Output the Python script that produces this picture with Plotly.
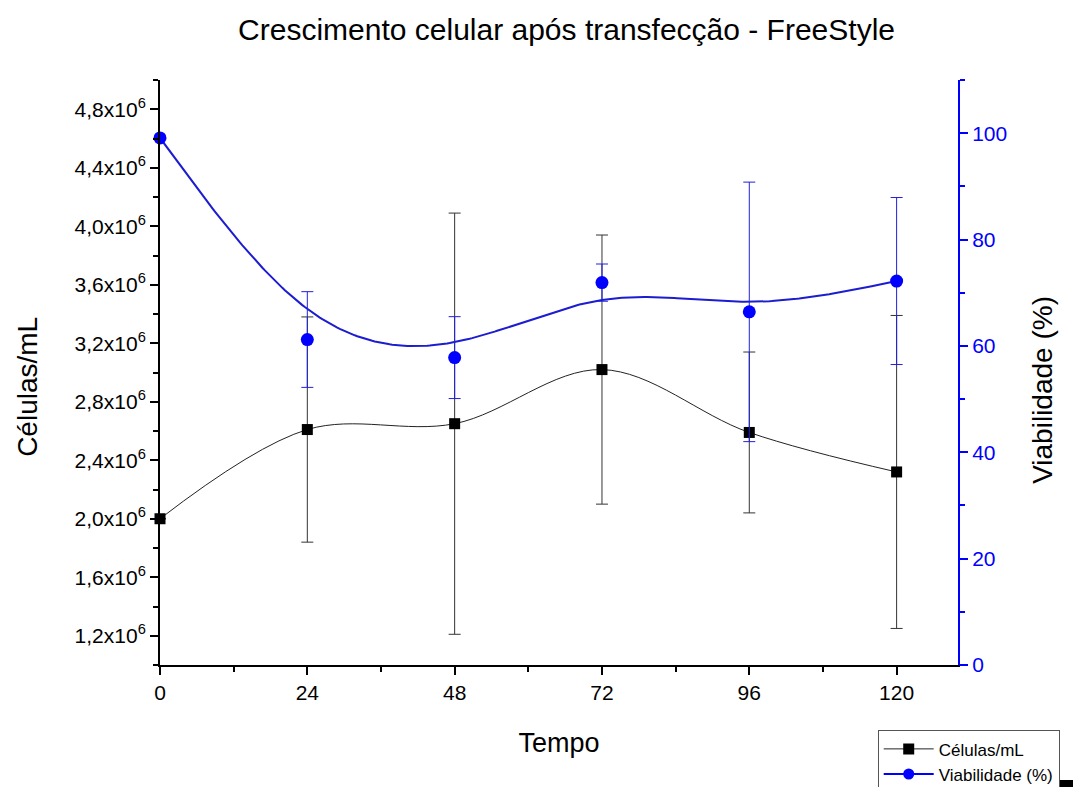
import numpy as np
import plotly.graph_objects as go

# ---- data ----
tempo = [0, 24, 48, 72, 96, 120]
celulas = [2.0e6, 2.61e6, 2.65e6, 3.02e6, 2.59e6, 2.32e6]
celulas_err = [0, 0.77e6, 1.44e6, 0.92e6, 0.55e6, 1.07e6]
viabilidade = [99.1, 61.2, 57.8, 71.9, 66.4, 72.2]
viabilidade_err = [0, 9.0, 7.7, 3.5, 24.4, 15.7]

left_tickvals = [1.2e6, 1.6e6, 2.0e6, 2.4e6, 2.8e6, 3.2e6, 3.6e6, 4.0e6, 4.4e6, 4.8e6]
left_ticktext = ["1,2x10<sup>6</sup>", "1,6x10<sup>6</sup>", "2,0x10<sup>6</sup>", "2,4x10<sup>6</sup>",
                 "2,8x10<sup>6</sup>", "3,2x10<sup>6</sup>", "3,6x10<sup>6</sup>", "4,0x10<sup>6</sup>",
                 "4,4x10<sup>6</sup>", "4,8x10<sup>6</sup>"]
x_tickvals = [0, 24, 48, 72, 96, 120]
right_tickvals = [0, 20, 40, 60, 80, 100]


def bspline(px, py, n=60):
    """Uniform cubic B-spline connector (end points reflected so the curve starts/ends on data)."""
    px = list(px)
    py = list(py)
    qx = [2 * px[0] - px[1]] + px + [2 * px[-1] - px[-2]]
    qy = [2 * py[0] - py[1]] + py + [2 * py[-1] - py[-2]]
    cx, cy = [], []
    t = np.linspace(0, 1, n)
    b0 = (1 - t) ** 3 / 6
    b1 = (3 * t ** 3 - 6 * t ** 2 + 4) / 6
    b2 = (-3 * t ** 3 + 3 * t ** 2 + 3 * t + 1) / 6
    b3 = t ** 3 / 6
    for i in range(len(qx) - 3):
        xs = b0 * qx[i] + b1 * qx[i + 1] + b2 * qx[i + 2] + b3 * qx[i + 3]
        ys = b0 * qy[i] + b1 * qy[i + 1] + b2 * qy[i + 2] + b3 * qy[i + 3]
        cx.extend(xs.tolist())
        cy.extend(ys.tolist())
    return cx, cy


bx, by = bspline(tempo, viabilidade)

FONT = "Liberation Sans, Arial, sans-serif"
BLUE = "#0000ff"

fig = go.Figure()

# Células/mL
fig.add_trace(go.Scatter(
    x=tempo, y=celulas, name="Células/mL", mode="lines+markers",
    line=dict(color="#222222", width=1, shape="spline", smoothing=1.0),
    marker=dict(symbol="square", size=11, color="black"),
    error_y=dict(type="data", array=celulas_err, color="#333333", thickness=1, width=6),
    cliponaxis=False, yaxis="y",
))

# Viabilidade curve (B-spline connector)
fig.add_trace(go.Scatter(
    x=bx, y=by, mode="lines", showlegend=False,
    line=dict(color="#1c1cd0", width=2), yaxis="y2", hoverinfo="skip",
))
# Viabilidade points
fig.add_trace(go.Scatter(
    x=tempo, y=viabilidade, mode="markers", showlegend=False,
    marker=dict(symbol="circle", size=13, color=BLUE),
    error_y=dict(type="data", array=viabilidade_err, color="#2020e0", thickness=1, width=6),
    cliponaxis=False, yaxis="y2",
))
# legend entry
fig.add_trace(go.Scatter(
    x=[None], y=[None], mode="lines+markers", name="Viabilidade (%)",
    line=dict(color=BLUE, width=2), marker=dict(symbol="circle", size=11, color=BLUE),
    yaxis="y2",
))

fig.update_layout(
    width=1073, height=787,
    margin=dict(l=160, r=115, t=80, b=122, autoexpand=False),
    paper_bgcolor="white", plot_bgcolor="white",
    font=dict(family=FONT, color="black"),
    title=dict(text="Crescimento celular após transfecção - FreeStyle",
               x=0.528, xanchor="center", y=0.962, yanchor="middle",
               font=dict(size=30, family=FONT, color="black")),
    xaxis=dict(
        range=[0, 130], tickvals=x_tickvals, showgrid=False, zeroline=False,
        showline=True, linecolor="black", linewidth=2,
        ticks="outside", ticklen=8, tickwidth=2, tickcolor="black",
        minor=dict(dtick=12, tick0=0, ticks="outside", ticklen=5, tickwidth=2, tickcolor="black"),
        tickfont=dict(size=21), title=dict(text="Tempo", font=dict(size=27), standoff=30),
    ),
    yaxis=dict(
        range=[1.0e6, 5.0e6], tickvals=left_tickvals, ticktext=left_ticktext,
        showgrid=False, zeroline=False, showline=True, linecolor="black", linewidth=2,
        ticks="outside", ticklen=8, tickwidth=2, tickcolor="black",
        minor=dict(dtick=0.2e6, tick0=1.0e6, ticks="outside", ticklen=5, tickwidth=2, tickcolor="black"),
        tickfont=dict(size=21),
    ),
    yaxis2=dict(
        range=[0, 110], tickvals=right_tickvals, overlaying="y", side="right", anchor="x",
        showgrid=False, zeroline=False, showline=True, linecolor=BLUE, linewidth=2,
        ticks="outside", ticklen=8, tickwidth=2, tickcolor=BLUE,
        minor=dict(dtick=10, tick0=0, ticks="outside", ticklen=5, tickwidth=2, tickcolor=BLUE),
        tickfont=dict(size=21, color=BLUE),
    ),
    legend=dict(
        xref="container", yref="container",
        x=0.818, xanchor="left", y=0.072, yanchor="top",
        bgcolor="white", bordercolor="#555555", borderwidth=1,
        font=dict(size=17, color="black"), tracegroupgap=0, itemwidth=50,
    ),
    showlegend=True,
)

# axis titles placed as annotations
fig.add_annotation(text="Células/mL", xref="paper", yref="paper", x=-0.167, y=0.475,
                   xanchor="center", yanchor="middle",
                   textangle=-90, showarrow=False, font=dict(size=28, family=FONT, color="black"))
fig.add_annotation(text="Viabilidade (%)", xref="paper", yref="paper", x=1.105, y=0.47,
                   xanchor="center", yanchor="middle",
                   textangle=-90, showarrow=False, font=dict(size=28, family=FONT, color="black"))

# dark strip below the legend box
fig.add_shape(type="rect", xref="paper", yref="paper",
              x0=0.912, x1=1.15, y0=-0.2085, y1=-0.1966,
              fillcolor="black", line=dict(width=0), layer="below")

fig.write_html("out.html")
